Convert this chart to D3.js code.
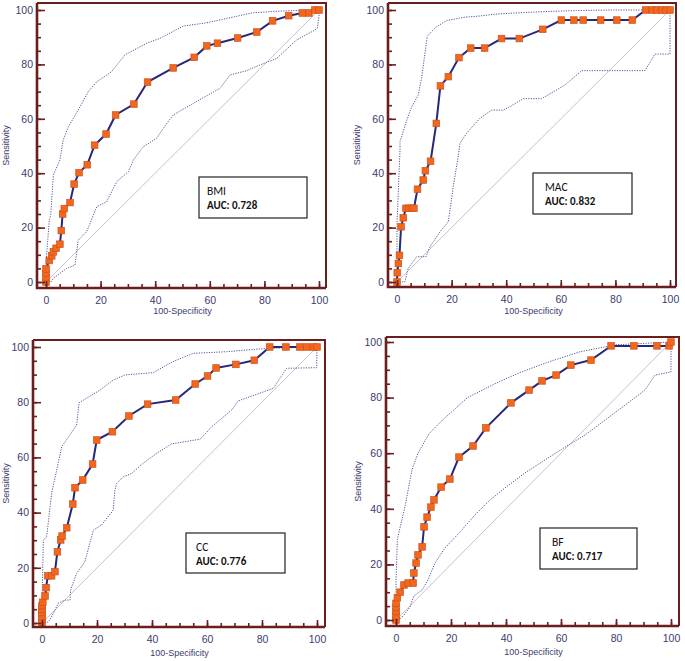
<!DOCTYPE html>
<html><head><meta charset="utf-8">
<script src="https://cdn.jsdelivr.net/npm/d3@7"></script>
<style>body{margin:0;background:#fff}svg{display:block}</style>
</head><body><svg id="c" width="685" height="661"></svg>
<script>
const panelNames = ["BMI","MAC","CC","BF"];
const aucValues = ["0.728","0.832","0.776","0.717"];
const xTicks = [0,20,40,60,80,100];
const yTicks = [0,20,40,60,80,100];
const minorTicks = d3.range(0,101,5);

const bmiCurve = [[0,0],[0,1.6],[0,3.2],[0,4.8],[1.2,7.9],[2.1,9.6],[2.7,11.1],[3.7,12.4],[5.1,13.9],[5.6,18.9],[6.1,25],[6.7,27],[8.8,29.2],[10.3,36],[12.1,40.2],[15.1,43.1],[17.8,50.3],[22,54.4],[25.5,61.4],[32.2,65.4],[37.2,73.5],[46.6,78.7],[54.3,82.6],[58.9,86.8],[62.8,87.8],[70.2,89.7],[77.2,91.9],[83,96],[88.9,97.9],[93.9,98.9],[96.3,98.9],[98.5,100],[100,100]];
const bmiUpper = [[0,0],[0,7],[1.2,22.8],[1.7,24.5],[2.7,39.3],[5.1,44.9],[6.3,52.2],[8.2,57.1],[11.8,63.2],[15.5,70],[18.6,73.6],[24,77.3],[28.9,83.5],[36.9,87.8],[41.8,89.6],[50.3,94.1],[58.9,95.3],[66.2,96.9],[75.9,99],[85.7,99.6],[97.8,100],[100,100]];
const bmiLower = [[0,0],[1.8,0],[2.7,1.4],[7.6,5],[10.6,6.2],[11.8,15.4],[14.9,18.5],[18.6,27.7],[22.2,29.5],[25.9,36.9],[30.2,40.6],[32,44.9],[35.6,49.7],[40.5,52.8],[44,58],[46.6,61.4],[54,65.7],[63.7,71.2],[67.4,76.1],[73.5,77.7],[78.4,79.8],[84.5,82.2],[91.8,89],[97.9,92.3],[99.4,93.3],[100,98],[100,100]];

const macCurve = [[0,0],[0.1,3.4],[0.5,6.8],[0.9,9.8],[1.5,20.3],[2.3,23.6],[3.3,27.1],[4.3,27.1],[5.3,27.1],[6.2,27.1],[7.5,34.1],[9.6,37.5],[10.4,40.9],[12.3,44.4],[14.4,58.3],[15.9,72.1],[18.8,75.5],[22.7,82.5],[27,86],[32.1,86],[38.3,89.5],[44.8,89.5],[53.4,92.9],[60.2,96.3],[64.8,96.3],[68.2,96.3],[74.6,96.3],[80.5,96.3],[86.2,96.3],[91.1,100],[93.5,100],[95.1,100],[96.9,100],[98.4,100],[100,100]];
const macUpper = [[0,0],[0,21.6],[1.1,48.5],[1.1,51.6],[3.6,59.6],[5.4,64.4],[7.8,68.8],[9,74.9],[11.1,90.4],[14.5,93.9],[18.2,96.1],[24.3,97.3],[30.4,97.8],[35.3,98.4],[41.4,98.8],[53.5,99.4],[65.8,99.8],[78,100],[100,100]];
const macLower = [[0,0],[1.7,0],[2.9,0.1],[4.1,5],[7.2,9.3],[10.6,9.3],[12.1,13],[15.8,18.5],[18.8,22.2],[20.6,35],[22.5,46.7],[23.1,51],[25.5,54.7],[30.4,60.2],[34.7,63.2],[38.9,63.2],[41.4,64.5],[46.3,67.4],[53,67.4],[61.5,72.4],[67.7,77.7],[90.8,77.7],[94.5,83.8],[100,83.8],[100,100]];

const ccCurve = [[0,0],[0,1.3],[0,2.5],[0,3.8],[0,5],[0,6.3],[0.3,7.5],[1.1,9.8],[1.5,12.8],[2.1,17.1],[3.5,17.1],[4.7,18.6],[5.6,25.8],[6.8,30.1],[7.3,31.5],[9,34.5],[11.2,43.1],[12,49],[14.8,51.8],[18.4,57.6],[19.9,66.3],[25.6,69.3],[31.6,75],[38.4,79.3],[48.6,80.8],[55.7,86.6],[60.2,89.5],[63.3,92.4],[70.5,93.7],[77.2,95.2],[82.8,100],[88.7,100],[93.8,100],[96.3,100],[98.7,100],[100,100]];
const ccUpper = [[0,0],[0.1,12],[0.5,30],[1.7,31.3],[3.5,47],[7.2,63.9],[12.6,71.7],[13.5,79.8],[18.1,82.6],[21.1,84.4],[25.9,88],[30.2,89.9],[40.5,90.7],[46.5,94.1],[49,95.3],[55,97.7],[67.2,98.3],[81.7,99.5],[100,100]];
const ccLower = [[0,0],[1.7,0],[2.9,1.1],[5.9,7.1],[8.4,8.3],[10.2,8.3],[10.4,12],[12.6,18],[15.6,22.2],[18.7,33.7],[21.7,35.5],[25.9,40.9],[26.5,48.2],[27.2,50.6],[29.6,53],[32.6,54.2],[36.8,57.9],[41.7,61.5],[47.2,64.9],[57.5,66.6],[61.7,71.1],[69,77.2],[71.4,80.5],[84.1,85],[89,92.3],[99.9,92.5],[100,100]];

const bfCurve = [[0,0],[0,1.5],[0,3],[0,4.5],[0,6],[0.5,8],[1.5,10],[2.9,12.6],[4.4,13.3],[6.2,13.3],[6.5,16.9],[7.3,20.5],[8,23.4],[9.5,26.3],[10.2,33.5],[11.3,37],[12.7,40.6],[13.8,43.2],[16.4,47.8],[19.6,50.7],[22.9,58.6],[28,62.6],[32.7,69.1],[41.8,78.1],[48.4,82.7],[53.1,86],[58.2,88.1],[63.6,91.7],[70.9,93.5],[78.2,98.6],[86.5,98.6],[94.9,98.6],[99.3,98.6],[100,100]];
const bfUpper = [[0,0],[0,14],[0.5,29],[3.3,41],[5.8,54],[8,60],[12,67],[17,72],[26,80],[36,85],[45,89],[56,93],[67,96.5],[80,99],[100,100]];
const bfLower = [[0,0],[1.1,0],[2.9,1.8],[5.1,4.7],[6.5,8.6],[9.5,10.8],[11.6,14.4],[14.2,20.5],[17.8,25.9],[23.3,31.7],[28.7,37.8],[34.2,43.2],[39.6,47.5],[46.9,52.9],[54.2,57.6],[61.5,62.2],[68.7,66.5],[76,71.9],[83.3,77.3],[90.5,82.7],[94.2,88.1],[100,89.2],[100,100]];

const curves = [bmiCurve, macCurve, ccCurve, bfCurve];
const uppers = [bmiUpper, macUpper, ccUpper, bfUpper];
const lowers = [bmiLower, macLower, ccLower, bfLower];

// layout (pixel geometry of each panel)
const layout = [
  {ax:37, ay:288, x0:46, x100:319, y0:282, y100:10, right:326, top:3, box:[199,177,108,41], tx:8, sensX:6, specY:311},
  {ax:388, ay:287, x0:397, x100:670, y0:282, y100:10, right:676, top:3, box:[533,173,99,41], tx:12, sensX:357, specY:311},
  {ax:33, ay:627, x0:42, x100:317, y0:623, y100:347, right:325, top:340, box:[186,533,99,40], tx:10, sensX:6, specY:653},
  {ax:386, ay:626, x0:396, x100:671, y0:620, y100:342, right:679, top:337, box:[540,528,97,41], tx:12, sensX:358, specY:652}
];

const svg = d3.select("#c");
svg.append("rect").attr("width",685).attr("height",661).attr("fill","#fff");

const axisColor = "#6b1e1e";
const labelColor = "#3b3b6d";
const lineColor = "#26287a";

layout.forEach((L, i) => {
  const x = d3.scaleLinear().domain([0,100]).range([L.x0, L.x100]);
  const y = d3.scaleLinear().domain([0,100]).range([L.y0, L.y100]);
  const g = svg.append("g");

  g.append("path")
    .attr("d", `M${L.ax},${L.top}H${L.right}V${L.ay}`)
    .attr("fill","none").attr("stroke",axisColor).attr("stroke-width",2);

  g.append("line")
    .attr("x1", x(0)).attr("y1", y(0)).attr("x2", x(100)).attr("y2", y(100))
    .attr("stroke","#cbbfca").attr("stroke-width",1);

  const line = d3.line().x(d => x(d[0])).y(d => y(d[1]));
  [uppers[i], lowers[i]].forEach(band => {
    g.append("path").attr("d", line(band))
      .attr("fill","none").attr("stroke","#55569a").attr("stroke-width",1)
      .attr("stroke-dasharray","1.2,1.3");
  });

  g.append("path").attr("d", line(curves[i]))
    .attr("fill","none").attr("stroke",lineColor).attr("stroke-width",2);

  g.selectAll("rect.pt").data(curves[i]).join("rect")
    .attr("class","pt")
    .attr("x", d => x(d[0]) - 3.3).attr("y", d => y(d[1]) - 3.3)
    .attr("width",6.6).attr("height",6.6)
    .attr("fill","#f4661c").attr("stroke","#c9531f").attr("stroke-width",0.7);

  const xAxisMajor = d3.axisBottom(x).tickValues(xTicks).tickSize(-7).tickPadding(8.5);
  const xAxisMinor = d3.axisBottom(x).tickValues(minorTicks).tickSize(-4).tickFormat("");
  const yAxisMajor = d3.axisLeft(y).tickValues(yTicks).tickSize(-8).tickPadding(4);
  const yAxisMinor = d3.axisLeft(y).tickValues(minorTicks).tickSize(-4).tickFormat("");

  [xAxisMinor, xAxisMajor].forEach(a => {
    const ag = g.append("g").attr("transform",`translate(0,${L.ay})`).call(a);
    ag.select(".domain").remove();
    ag.selectAll("line").attr("stroke",axisColor).attr("stroke-width",1.6);
    ag.selectAll("text").attr("fill",labelColor).attr("font-size","10.5px")
      .attr("font-family","Liberation Sans, Arial, sans-serif");
  });
  [yAxisMinor, yAxisMajor].forEach(a => {
    const ag = g.append("g").attr("transform",`translate(${L.ax},0)`).call(a);
    ag.select(".domain").remove();
    ag.selectAll("line").attr("stroke",axisColor).attr("stroke-width",1.6);
    ag.selectAll("text").attr("fill",labelColor).attr("font-size","10.5px")
      .attr("font-family","Liberation Sans, Arial, sans-serif");
  });

  g.append("path")
    .attr("d", `M${L.ax},${L.top}V${L.ay}H${L.right}`)
    .attr("fill","none").attr("stroke",axisColor).attr("stroke-width",2.6);

  g.append("text")
    .attr("transform", `translate(${L.sensX},${(L.top + L.ay)/2}) rotate(-90)`)
    .attr("text-anchor","middle").attr("dominant-baseline","central")
    .attr("fill",labelColor).attr("font-size","9px")
    .attr("font-family","Liberation Sans, Arial, sans-serif")
    .text("Sensitivity");
  g.append("text")
    .attr("x", (L.x0 + L.x100)/2).attr("y", L.specY)
    .attr("text-anchor","middle").attr("dominant-baseline","central")
    .attr("fill",labelColor).attr("font-size","9px")
    .attr("font-family","Liberation Sans, Arial, sans-serif")
    .text("100-Specificity");

  const [bx,by,bw,bh] = L.box;
  g.append("rect").attr("x",bx).attr("y",by).attr("width",bw).attr("height",bh)
    .attr("fill","#fff").attr("stroke","#222").attr("stroke-width",1.2);
  g.append("text").attr("x",bx+L.tx).attr("y",by+18)
    .attr("font-family","Carlito, Lato, sans-serif").attr("font-size","11.5px")
    .attr("fill","#111").text(panelNames[i]);
  g.append("text").attr("x",bx+L.tx).attr("y",by+32)
    .attr("font-family","Carlito, Lato, sans-serif").attr("font-size","11px")
    .attr("font-weight","bold").attr("fill","#111").text("AUC: " + aucValues[i]);
});
</script>
</body></html>
